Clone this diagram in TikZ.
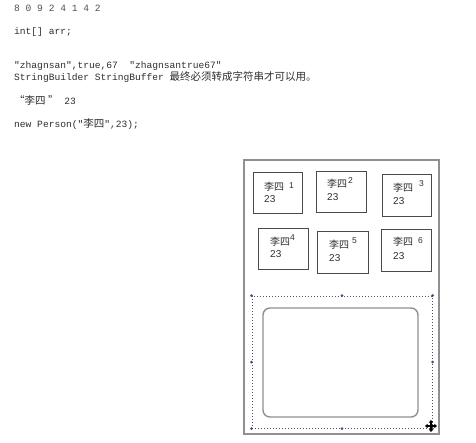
\documentclass[tikz,border=0pt]{standalone}
\usepackage{fontspec}
\setmainfont{Liberation Sans}
\setmonofont{Liberation Mono}
\newfontfamily\cjk{Noto Sans CJK SC}
\usetikzlibrary{arrows.meta}
\definecolor{ink}{HTML}{2E2E2E}
\definecolor{lightink}{HTML}{505050}
\definecolor{framegray}{HTML}{909090}
\definecolor{boxgray}{HTML}{4A4A4A}
\definecolor{selblue}{HTML}{48506E}
\newcommand{\codefont}{\fontsize{9.6}{11}\selectfont\ttfamily}
\newcommand{\hanfont}{\fontsize{10.5}{12}\selectfont\cjk}
\begin{document}
\begin{tikzpicture}[x=1pt,y=-1pt,
  codeline/.style={anchor=base west,inner sep=0pt,text=ink,font=\codefont},
  personbox/.style={draw=boxgray,line width=0.9pt,inner sep=0pt},
  pname/.style={anchor=west,inner sep=0pt,text=ink,font=\fontsize{10}{12}\selectfont\cjk},
  pidx/.style={anchor=west,inner sep=0pt,text=ink,font=\fontsize{8.5}{10}\selectfont},
  page/.style={anchor=west,inner sep=0pt,text=ink,font=\fontsize{10}{12}\selectfont},
  handle/.style={circle,fill=selblue,inner sep=0pt,minimum size=3pt}]
\useasboundingbox[fill=white] (0,0) rectangle (476,442);

% source notes
\node[codeline,text=lightink] (l1) at (14,11) {8 0 9 2 4 1 4 2};
\node[codeline] (l2) at (14,34) {int[] arr;};
\node[codeline] (l3) at (14,68) {"zhagnsan",true,67\ \ "zhagnsantrue67"};
\node[codeline] (l4) at (14,80) {StringBuilder StringBuffer {\hanfont 最终必须转成字符串才可以用。}};
\node[codeline] (l5) at (14,104) {{\hanfont “李四 ”}\ 23};
\node[codeline] (l6) at (14,127) {new Person("{\hanfont 李四}",23);};

% heap frame
\node[draw=framegray,line width=1.4pt,minimum width=195pt,minimum height=274pt,inner sep=0pt]
  (heap) at (341.5,297) {};

% person objects
\node[personbox,minimum width=49pt,minimum height=41pt] (p1) at (277.5,192.5) {};
\node[personbox,minimum width=50pt,minimum height=41pt] (p2) at (341,191.5) {};
\node[personbox,minimum width=49pt,minimum height=42pt] (p3) at (406.5,195) {};
\node[personbox,minimum width=50pt,minimum height=41pt] (p4) at (283,248.5) {};
\node[personbox,minimum width=51pt,minimum height=42pt] (p5) at (342.5,252) {};
\node[personbox,minimum width=50pt,minimum height=42pt] (p6) at (406,250) {};

\node[pname] (n1) at (264,187) {李四};
\node[pidx]  (i1) at (289,186) {1};
\node[page]  (a1) at (264,199) {23};
\node[pname] (n2) at (327,184) {李四};
\node[pidx]  (i2) at (348,181) {2};
\node[page]  (a2) at (327,197) {23};
\node[pname] (n3) at (393,188) {李四};
\node[pidx]  (i3) at (419,184) {3};
\node[page]  (a3) at (393,201) {23};
\node[pname] (n4) at (270,242) {李四};
\node[pidx]  (i4) at (290,238) {4};
\node[page]  (a4) at (270,254) {23};
\node[pname] (n5) at (329,245) {李四};
\node[pidx]  (i5) at (352,241) {5};
\node[page]  (a5) at (329,258) {23};
\node[pname] (n6) at (393,242) {李四};
\node[pidx]  (i6) at (418,241) {6};
\node[page]  (a6) at (393,256) {23};

% selected shape with its handles
\node[draw=selblue,dotted,line width=1pt,minimum width=180pt,minimum height=132pt,inner sep=0pt]
  (sel) at (342,362) {};
\foreach \h in {north west,north,north east,east,south east,south,south west,west}
  \node[handle] at (sel.\h) {};
\node[draw=framegray,line width=1.4pt,rounded corners=7pt,minimum width=155pt,minimum height=109pt,inner sep=0pt]
  (blank) at (340.5,362.5) {};

% move cursor
\coordinate (mv) at (431,426);
\draw[line width=1.5pt,{Triangle[length=2.6pt,width=4.2pt]}-{Triangle[length=2.6pt,width=4.2pt]}]
  ([xshift=-6pt]mv) -- ([xshift=6pt]mv);
\draw[line width=1.5pt,{Triangle[length=2.6pt,width=4.2pt]}-{Triangle[length=2.6pt,width=4.2pt]}]
  ([yshift=-6pt]mv) -- ([yshift=6pt]mv);
\end{tikzpicture}
\end{document}
